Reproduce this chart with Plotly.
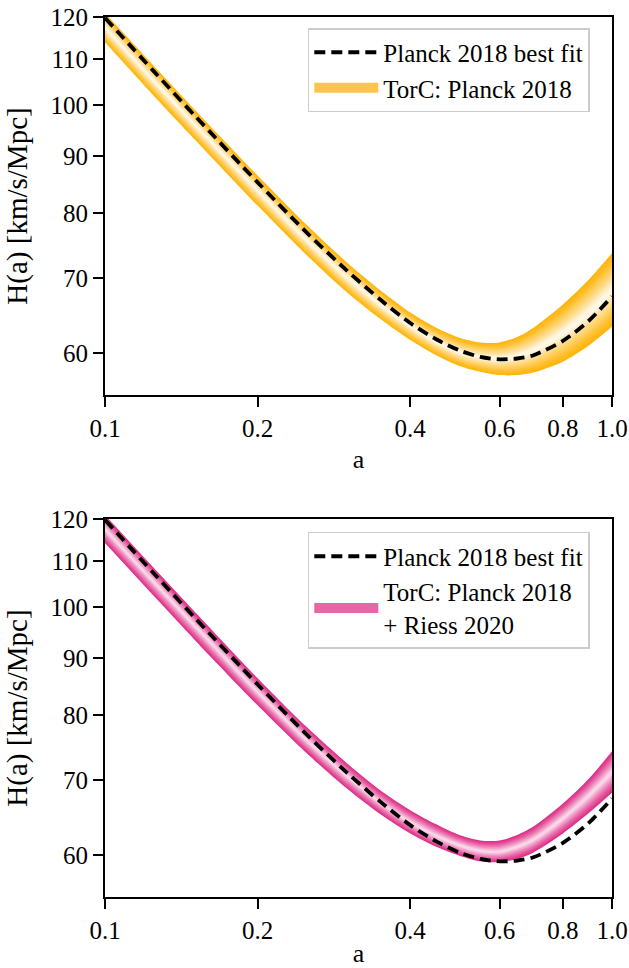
import numpy as np
import plotly.graph_objects as go
from plotly.subplots import make_subplots

# ---------------- data ----------------
a = [0.1, 0.125, 0.15, 0.2, 0.25, 0.3, 0.35, 0.4, 0.45, 0.5, 0.55, 0.6, 0.65, 0.7, 0.8, 0.9, 1.0]

best_fit = [119.8, 107.2, 98.0, 85.3, 76.9, 71.1, 66.9, 63.8, 61.7, 60.3, 59.5, 59.2, 59.3, 59.7, 61.5, 64.1, 67.4]

planck_lo = [113.9, 101.9, 93.3, 81.3, 73.4, 68.0, 64.3, 61.6, 59.7, 58.4, 57.7, 57.3, 57.3, 57.6, 58.9, 60.9, 63.3]
planck_med = [117.4, 105.1, 96.2, 83.9, 75.7, 70.1, 66.2, 63.4, 61.4, 60.1, 59.5, 59.3, 59.6, 60.3, 62.5, 65.2, 68.3]
planck_hi = [121.0, 108.4, 99.2, 86.5, 78.1, 72.3, 68.2, 65.2, 63.2, 61.9, 61.3, 61.3, 62.0, 63.2, 66.3, 69.8, 73.7]

riess_lo = [114.2, 102.3, 93.6, 81.7, 74.0, 68.8, 65.2, 62.7, 61.0, 59.9, 59.2, 59.1, 59.5, 60.3, 62.7, 65.4, 68.2]
riess_med = [117.5, 105.3, 96.4, 84.0, 76.0, 70.6, 66.8, 64.2, 62.4, 61.2, 60.5, 60.4, 61.0, 61.9, 64.7, 67.8, 71.2]
riess_hi = [121.0, 108.4, 99.2, 86.4, 78.1, 72.5, 68.5, 65.8, 63.9, 62.5, 61.8, 61.8, 62.5, 63.6, 66.7, 70.2, 74.3]

x_tickvals = [0.1, 0.2, 0.4, 0.6, 0.8, 1.0]
x_ticktext = ["0.1", "0.2", "0.4", "0.6", "0.8", "1.0"]
y_tickvals = [60, 70, 80, 90, 100, 110, 120]
y_ticktext = ["60", "70", "80", "90", "100", "110", "120"]

best_fit_name = "Planck 2018 best fit"
planck_name = "TorC: Planck 2018"
riess_name = "TorC: Planck 2018<br>+ Riess 2020"

# ---------------- styling ----------------
FONT = "Liberation Serif"
FS = 25
N_LAYERS = 9
orange_edge = (255, 182, 14)
orange_core = (255, 246, 228)
pink_edge = (222, 50, 136)
pink_core = (250, 214, 232)
orange_legend = "#FFC44B"
pink_legend = "#E567A5"

W, H = 629, 968

fig = make_subplots(rows=2, cols=1, vertical_spacing=0.0)


def mix(c1, c2, t):
    return "rgb(%d,%d,%d)" % tuple(round(c1[i] + (c2[i] - c1[i]) * t) for i in range(3))


def add_band(row, lo, med, hi, edge, core):
    llo, lmed, lhi = np.log10(lo), np.log10(med), np.log10(hi)
    for k in range(N_LAYERS):
        f = 1.0 - k / N_LAYERS
        t = k / (N_LAYERS - 1)
        col = mix(edge, core, t ** 1.2)
        up = 10 ** (lmed + f * (lhi - lmed))
        dn = 10 ** (lmed + f * (llo - lmed))
        fig.add_trace(go.Scatter(x=a, y=up, mode="lines", line=dict(width=0, shape="spline", smoothing=0.8),
                                 showlegend=False, hoverinfo="skip"), row=row, col=1)
        fig.add_trace(go.Scatter(x=a, y=dn, mode="lines", line=dict(width=0, shape="spline", smoothing=0.8),
                                 fill="tonexty", fillcolor=col, showlegend=False,
                                 hoverinfo="skip"), row=row, col=1)


add_band(1, planck_lo, planck_med, planck_hi, orange_edge, orange_core)
add_band(2, riess_lo, riess_med, riess_hi, pink_edge, pink_core)

# legend-only entries for the bands (thick line = filled patch in legend)
fig.add_trace(go.Scatter(x=[None], y=[None], mode="lines", line=dict(width=17, color=orange_legend),
                         name=planck_name, legend="legend", legendrank=2),
              row=1, col=1)
fig.add_trace(go.Scatter(x=[None], y=[None], mode="lines", line=dict(width=17, color=pink_legend),
                         name=riess_name, legend="legend2", legendrank=2),
              row=2, col=1)

for row, lg in [(1, "legend"), (2, "legend2")]:
    fig.add_trace(go.Scatter(x=a, y=best_fit, mode="lines",
                             line=dict(color="black", width=3.8, dash="11px,6px", shape="spline", smoothing=0.8),
                             name=best_fit_name, legend=lg, legendrank=1), row=row, col=1)

axis_common = dict(showline=True, linecolor="black", linewidth=2, mirror=True,
                   ticks="outside", ticklen=10, tickwidth=2, tickcolor="black",
                   showgrid=False, zeroline=False, automargin=False,
                   tickfont=dict(family=FONT, size=FS, color="black"))

for row in (1, 2):
    fig.update_xaxes(type="log", range=[np.log10(0.1), np.log10(1.0)],
                     tickvals=x_tickvals, ticktext=x_ticktext,
                     title=dict(text="a", font=dict(family=FONT, size=FS + 1, color="black"), standoff=9),
                     row=row, col=1, **axis_common)
    fig.update_yaxes(type="log", range=[np.log10(55), np.log10(120)],
                     tickvals=y_tickvals, ticktext=y_ticktext,
                     title=dict(text="H(a) [km/s/Mpc]", font=dict(family=FONT, size=29, color="black"),
                                standoff=14),
                     row=row, col=1, **axis_common)

fig.update_layout(yaxis=dict(domain=[0.5705, 1.0]), yaxis2=dict(domain=[0.0, 0.4295]))

legend_common = dict(font=dict(family=FONT, size=FS, color="black"), bgcolor="white",
                     bordercolor="#cccccc", borderwidth=1.5, xanchor="left", yanchor="top",
                     x=0.40, itemwidth=64, tracegroupgap=0, traceorder="normal")

fig.update_layout(
    width=W, height=H,
    margin=dict(l=105, r=17, t=17, b=71, autoexpand=False),
    plot_bgcolor="white", paper_bgcolor="white",
    font=dict(family=FONT, size=FS, color="black"),
    legend=dict(y=0.9875, **legend_common),
    legend2=dict(y=0.4148, **legend_common),
)

fig.write_html("out.html", config={"displayModeBar": False},
               post_script="document.body.style.margin='0px';document.body.style.overflow='hidden';")
